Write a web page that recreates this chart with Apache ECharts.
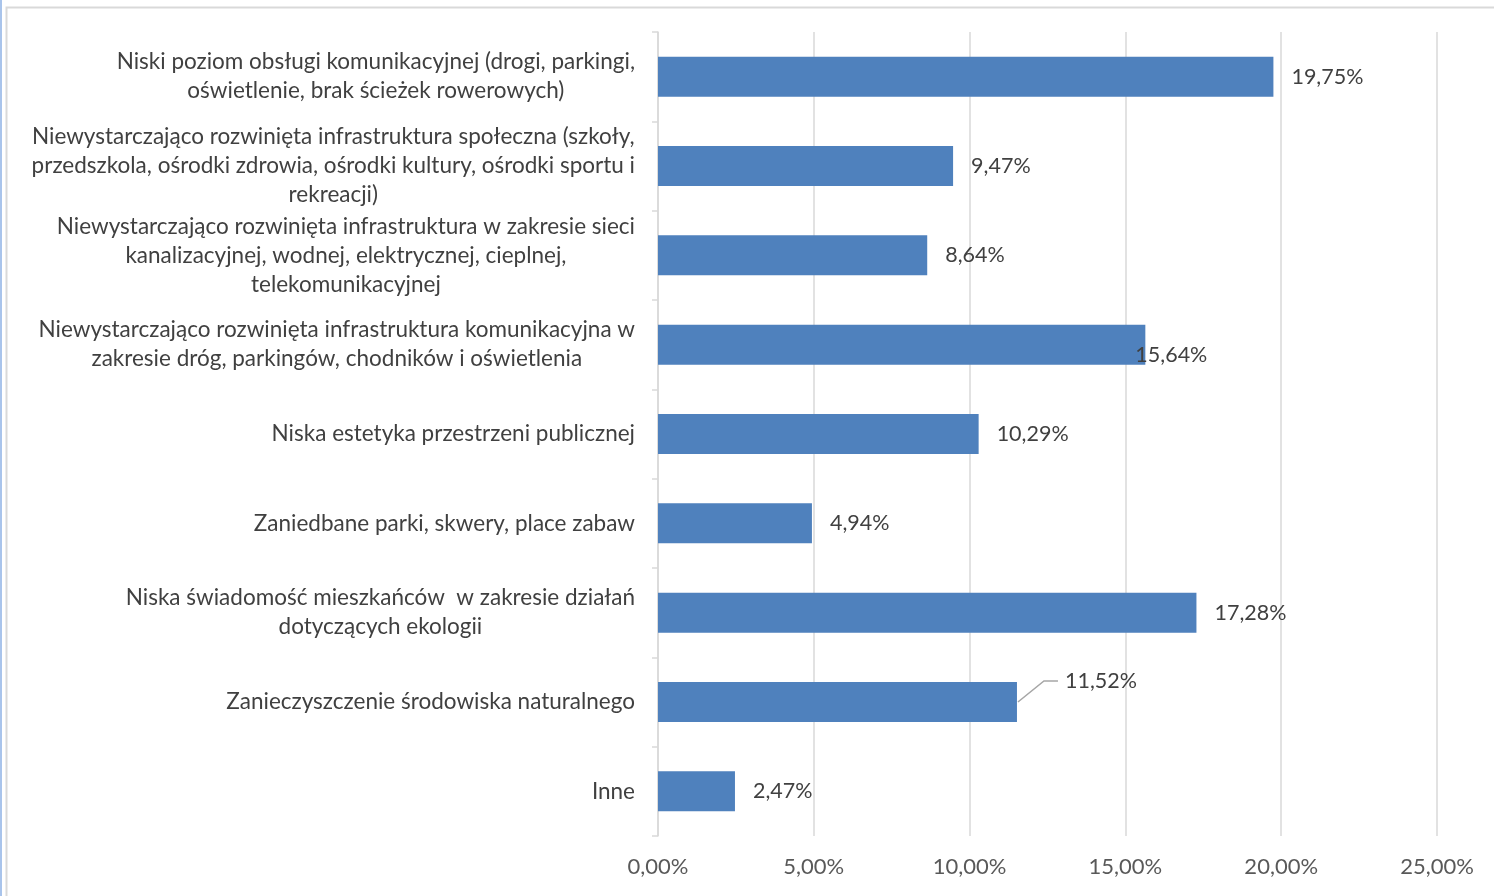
<!DOCTYPE html>
<html><head><meta charset="utf-8">
<script src="https://cdn.jsdelivr.net/npm/echarts@6/dist/echarts.min.js"></script>
<style>html,body{margin:0;padding:0;background:#fff;}#c{width:1494px;height:896px;}</style>
</head><body><div id="c"></div>
<script>
const categories = [
  "Niski poziom obsługi komunikacyjnej (drogi, parkingi,\noświetlenie, brak ścieżek rowerowych)",
  "Niewystarczająco rozwinięta infrastruktura społeczna (szkoły,\nprzedszkola, ośrodki zdrowia, ośrodki kultury, ośrodki sportu i\nrekreacji)",
  "Niewystarczająco rozwinięta infrastruktura w zakresie sieci\nkanalizacyjnej, wodnej, elektrycznej, cieplnej,\ntelekomunikacyjnej",
  "Niewystarczająco rozwinięta infrastruktura komunikacyjna w\nzakresie dróg, parkingów, chodników i oświetlenia",
  "Niska estetyka przestrzeni publicznej",
  "Zaniedbane parki, skwery, place zabaw",
  "Niska świadomość mieszkańców  w zakresie działań\ndotyczących ekologii",
  "Zanieczyszczenie środowiska naturalnego",
  "Inne"
];
const values = [19.75, 9.47, 8.64, 15.64, 10.29, 4.94, 17.28, 11.52, 2.47];
const xTicks = { min: 0, max: 25, interval: 5 };
const leaderIndex = 7;   // label moved with a leader line
const overlapIndex = 3;  // label drawn over the bar end

const FONT = 'Lato, "Open Sans", sans-serif';
const fmt = v => v.toFixed(2).replace('.', ',') + '%';

const option = {
  animation: false,
  backgroundColor: '#fff',
  graphic: [
    { type: 'rect', shape: { x: 0, y: 0, width: 2, height: 896 }, style: { fill: '#A9C4EB' }, silent: true },
    { type: 'rect', shape: { x: 6.5, y: 7.5, width: 1600, height: 1000 }, style: { fill: 'none', stroke: '#D9D9D9', lineWidth: 2 }, silent: true }
  ],
  grid: { left: 658, right: 57, top: 32, bottom: 60, containLabel: false },
  xAxis: {
    type: 'value', min: xTicks.min, max: xTicks.max, interval: xTicks.interval,
    axisLine: { show: false }, axisTick: { show: false },
    splitLine: { show: true, lineStyle: { color: '#D9D9D9', width: 1.5 } },
    axisLabel: { formatter: v => fmt(v), color: '#595959', fontFamily: FONT, fontSize: 22, margin: 20 }
  },
  yAxis: {
    type: 'category', data: categories, inverse: true,
    axisLine: { show: true, lineStyle: { color: '#D9D9D9', width: 1.5 } },
    axisTick: { show: true, length: 6, lineStyle: { color: '#D9D9D9', width: 1.5 } },
    axisLabel: {
      margin: 23, color: '#404040', fontFamily: FONT, fontSize: 22.5, lineHeight: 29,
      formatter: s => s.split('\n').map(l => '{c|' + l + '}').join('\n'),
      rich: { c: { align: 'center', color: '#404040', fontFamily: FONT, fontSize: 22.5, lineHeight: 29 } }
    }
  },
  series: [{
    type: 'bar',
    data: values,
    barWidth: 40,
    itemStyle: { color: '#4F81BD' },
    label: {
      show: true, position: 'right', distance: 18,
      color: '#404040', fontFamily: FONT, fontSize: 21.5,
      formatter: p => fmt(p.value)
    },
    labelLayout: function (p) {
      if (p.dataIndex === overlapIndex) return { dx: -28, dy: 10 };
      if (p.dataIndex === leaderIndex) return { dx: 30, dy: -21 };
      return {};
    }
  }, {
    type: 'custom',
    silent: true,
    z: 5,
    data: [[values[leaderIndex], leaderIndex]],
    encode: { x: 0, y: 1 },
    renderItem: function (params, api) {
      const p = api.coord([api.value(0), api.value(1)]);
      return {
        type: 'polyline',
        shape: { points: [[p[0] + 1, p[1]], [p[0] + 27, p[1] - 21], [p[0] + 41, p[1] - 21]] },
        style: { stroke: '#A6A6A6', lineWidth: 1.5, fill: 'none' }
      };
    }
  }]
};
const chart = echarts.init(document.getElementById('c'));
chart.setOption(option);
</script></body></html>
